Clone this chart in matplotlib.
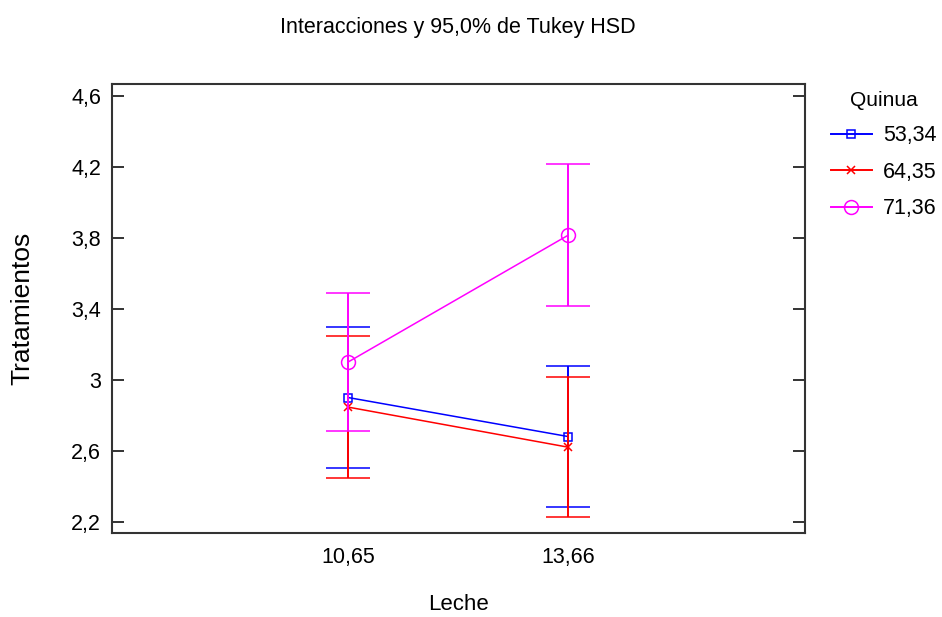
import matplotlib
matplotlib.use("Agg")
import matplotlib.pyplot as plt
from matplotlib.lines import Line2D
from matplotlib.ticker import FuncFormatter, FixedLocator

plt.rcParams['font.family'] = ['Liberation Sans', 'DejaVu Sans']

# data
leche = ['10,65', '13,66']
quinua = ['53,34', '64,35', '71,36']
means_5334 = [2.90, 2.68]
means_6435 = [2.846, 2.62]
means_7136 = [3.10, 3.815]
hsd_5334 = [0.40, 0.40]
hsd_6435 = [0.40, 0.395]
hsd_7136 = [0.39, 0.40]
yticks = [2.2, 2.6, 3.0, 3.4, 3.8, 4.2, 4.6]

series = [
    (means_5334, hsd_5334, '#0000ff', 's', 5.5, 'none'),
    (means_6435, hsd_6435, '#ff0000', 'x', 6, None),
    (means_7136, hsd_7136, '#ff00ff', 'o', 10, 'none'),
]

fig = plt.figure(figsize=(9.42, 6.17), dpi=100)
ax = fig.add_axes([112 / 942, 1 - 533 / 617, 693 / 942, 449 / 617])

xpos = list(range(len(leche)))
handles = []
for i, (m, e, c, mk, ms, mfc) in enumerate(series):
    kw = dict(mfc=mfc) if mfc else {}
    ax.errorbar(xpos, m, yerr=e, color=c, ecolor=c, marker=mk, ms=ms,
                mew=1.1, lw=1.1, elinewidth=1.4, capsize=16, capthick=1.4,
                zorder=2 + i, **kw)
    handles.append(Line2D([], [], color=c, marker=mk, ms=ms, mew=1.1, lw=1.4,
                          label=quinua[i], **kw))

ax.set_xlim(-1.073, 2.077)
ax.set_ylim(2.136, 4.668)
ax.set_xticks(xpos)
ax.set_xticklabels(leche)
ax.yaxis.set_major_locator(FixedLocator(yticks))
ax.yaxis.set_major_formatter(FuncFormatter(lambda v, p: ('%g' % v).replace('.', ',')))

ax.tick_params(axis='y', direction='in', length=8.5, width=1.4, color='#333333',
               left=True, right=True, labelsize=15.5, pad=8)
ax.tick_params(axis='x', length=0, labelsize=15.5, pad=10)
for s in ax.spines.values():
    s.set_linewidth(1.5)
    s.set_color('#333333')

ax.set_xlabel('Leche', fontsize=16)
ax.xaxis.set_label_coords(0.5, (533 - 594) / 449)
ax.set_ylabel('Tratamientos', fontsize=19)
ax.yaxis.set_label_coords((34 - 112) / 693, 0.5)

fig.text(458 / 942, 1 - 27 / 617, 'Interacciones y 95,0% de Tukey HSD',
         ha='center', va='center', fontsize=15.5)

leg = ax.legend(handles=handles, loc='upper left',
                bbox_to_anchor=(822 / 942, 1 - 82 / 617),
                bbox_transform=fig.transFigure, frameon=False, fontsize=15.5,
                title='Quinua', title_fontsize=15, handlelength=1.9,
                handletextpad=0.55, labelspacing=0.72, borderaxespad=0)

fig.savefig('out.png', dpi=100)
